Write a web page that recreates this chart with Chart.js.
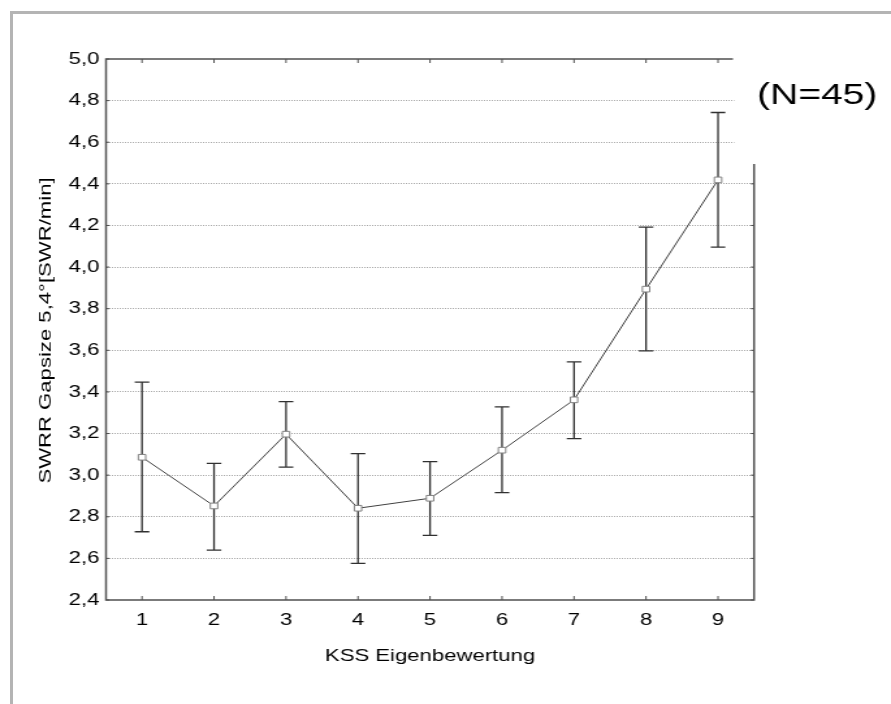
<!DOCTYPE html>
<html>
<head>
<meta charset="utf-8">
<script src="https://cdn.jsdelivr.net/npm/chart.js@4"></script>
<style>
  body { margin: 0; background: #fff; }
  #wrap { position: relative; width: 891px; height: 704px; overflow: hidden; }
  #chart { position: absolute; left: 0; top: 0; }
  #frame { position: absolute; left: 10px; top: 11px; width: 2000px; height: 2000px;
           border-left: 3px solid #b4b4b4; border-top: 3px solid #b4b4b4; pointer-events: none; }
</style>
</head>
<body>
<div id="wrap">
  <canvas id="chart" width="685" height="704" style="width:891px;height:704px"></canvas>
  <div id="frame"></div>
</div>
<script>
// data
const kss = ['1', '2', '3', '4', '5', '6', '7', '8', '9'];
const meanVals  = [3.086, 2.852, 3.197, 2.841, 2.889, 3.120, 3.362, 3.894, 4.419];
const upperVals = [3.447, 3.057, 3.353, 3.103, 3.065, 3.328, 3.544, 4.192, 4.743];
const lowerVals = [2.728, 2.640, 3.039, 2.576, 2.711, 2.916, 3.176, 3.597, 4.096];
const yMin = 2.4, yMax = 5.0, yStep = 0.2;
const xTitle = 'KSS Eigenbewertung';
const yTitle = 'SWRR Gapsize 5,4°[SWR/min]';
const nLabel = '(N=45)';

// the original text is wide, so the canvas is drawn narrow and stretched
const stretch = 891 / 685;
const fontFam = '"Liberation Sans", Arial, sans-serif';

const errorBars = {
  id: 'errorBars',
  beforeDatasetsDraw(chart) {
    const {ctx, scales: {x, y}} = chart;
    ctx.save();
    ctx.strokeStyle = '#303030';
    ctx.lineWidth = 1.3;
    meanVals.forEach((m, i) => {
      const px = x.getPixelForValue(i);
      const top = y.getPixelForValue(upperVals[i]);
      const bot = y.getPixelForValue(lowerVals[i]);
      ctx.beginPath();
      ctx.moveTo(px, top); ctx.lineTo(px, bot);
      ctx.moveTo(px - 5.6, top); ctx.lineTo(px + 5.6, top);
      ctx.moveTo(px - 5.6, bot); ctx.lineTo(px + 5.6, bot);
      ctx.stroke();
    });
    ctx.restore();
  }
};

const frame = {
  id: 'frame',
  afterDraw(chart) {
    const {ctx, chartArea: {left, right, top, bottom}, scales: {x, y}} = chart;
    const cutX = right - 16.2, cutY = top + 105;
    ctx.save();
    // room for the (N=45) label
    ctx.fillStyle = '#fff';
    ctx.fillRect(cutX + 1, top - 3, right - cutX + 4, cutY - top + 2);

    ctx.strokeStyle = '#505050';
    ctx.lineWidth = 1.5;
    ctx.beginPath();
    ctx.moveTo(cutX, top); ctx.lineTo(left, top); ctx.lineTo(left, bottom);
    ctx.lineTo(right, bottom); ctx.lineTo(right, cutY);
    ctx.stroke();

    // inside tick marks
    ctx.lineWidth = 1;
    ctx.beginPath();
    kss.forEach((k, i) => {
      const px = x.getPixelForValue(i);
      ctx.moveTo(px, bottom); ctx.lineTo(px, bottom - 4);
      if (px < cutX) { ctx.moveTo(px, top); ctx.lineTo(px, top + 4); }
    });
    y.ticks.forEach(t => {
      const py = y.getPixelForValue(t.value);
      ctx.moveTo(left, py); ctx.lineTo(left + 2.5, py);
      if (py >= cutY) { ctx.moveTo(right, py); ctx.lineTo(right - 2.5, py); }
    });
    ctx.stroke();

    ctx.fillStyle = '#000';
    ctx.font = '30px ' + fontFam;
    ctx.textAlign = 'left';
    ctx.textBaseline = 'alphabetic';
    ctx.fillText(nLabel, 582, 104);

    // rotated y title, stretched along its length like the original
    ctx.translate(35.4, (top + bottom) / 2 + 1);
    ctx.scale(1 / stretch, stretch);
    ctx.rotate(-Math.PI / 2);
    ctx.font = '17px ' + fontFam;
    ctx.textAlign = 'center';
    ctx.textBaseline = 'middle';
    ctx.fillText(yTitle, 0, 0);
    ctx.restore();
  }
};

const ctx = document.getElementById('chart').getContext('2d');
new Chart(ctx, {
  type: 'line',
  data: {
    labels: kss,
    datasets: [{
      data: meanVals,
      borderColor: '#404040',
      borderWidth: 1,
      tension: 0,
      pointStyle: 'rect',
      pointRadius: 4,
      pointBackgroundColor: '#fff',
      pointBorderColor: '#808080',
      pointBorderWidth: 1
    }]
  },
  options: {
    responsive: false,
    animation: false,
    layout: { padding: { left: 0, right: 105.3, top: 59, bottom: 0 } },
    plugins: { legend: { display: false }, tooltip: { enabled: false } },
    scales: {
      x: {
        type: 'category',
        offset: true,
        grid: { display: false, drawTicks: false },
        border: { display: false },
        ticks: { color: '#000', padding: 10, font: { size: 17, family: fontFam } },
        title: {
          display: true, text: xTitle, color: '#000',
          font: { size: 17, family: fontFam },
          padding: { top: 0, bottom: 37 }
        },
        afterFit: s => { s.height = 104; }
      },
      y: {
        min: yMin,
        max: yMax,
        grid: {
          drawTicks: false,
          lineWidth: 1,
          color: c => (c.tick && (c.tick.value <= yMin + 1e-6 || c.tick.value >= yMax - 1e-6)) ? 'rgba(0,0,0,0)' : '#a8a8a8'
        },
        border: { display: false, dash: [1, 1] },
        ticks: {
          stepSize: yStep,
          color: '#000',
          padding: 5,
          font: { size: 17, family: fontFam },
          callback: v => v.toFixed(1).replace('.', ',')
        },
        afterFit: s => { s.width = 81.5; }
      }
    }
  },
  plugins: [errorBars, frame]
});
</script>
</body>
</html>
